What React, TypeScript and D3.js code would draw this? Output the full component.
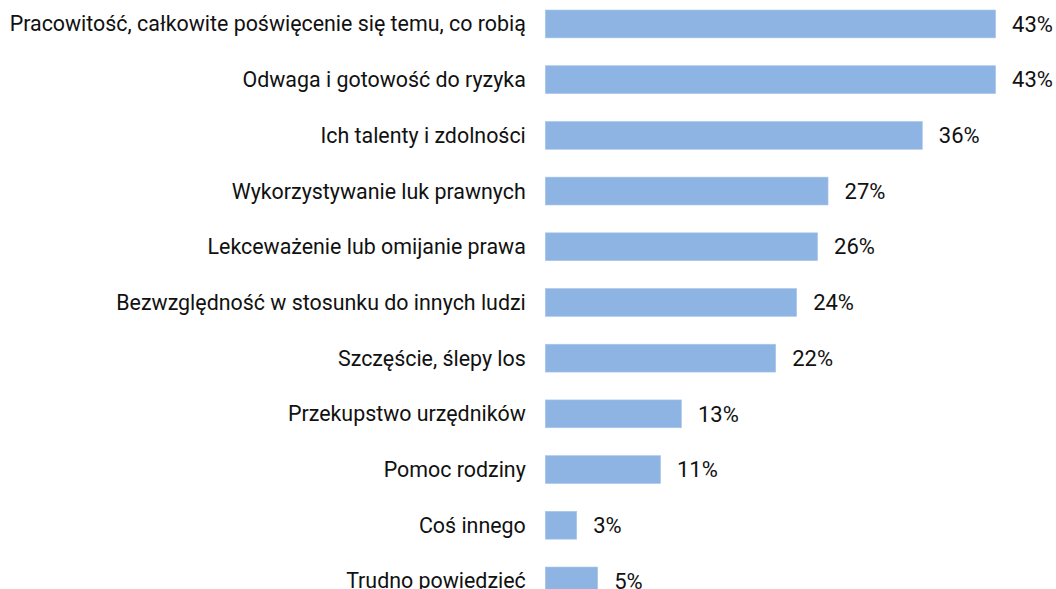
import React from "react";
import * as d3 from "d3";

const categories = [
  "Pracowitość, całkowite poświęcenie się temu, co robią",
  "Odwaga i gotowość do ryzyka",
  "Ich talenty i zdolności",
  "Wykorzystywanie luk prawnych",
  "Lekceważenie lub omijanie prawa",
  "Bezwzględność w stosunku do innych ludzi",
  "Szczęście, ślepy los",
  "Przekupstwo urzędników",
  "Pomoc rodziny",
  "Coś innego",
  "Trudno powiedzieć",
];
const values = [43, 43, 36, 27, 26, 24, 22, 13, 11, 3, 5];

const W = 1056;
const H = 589;

export default function App() {
  const x = d3.scaleLinear().domain([0, 43]).range([545.3, 995.6]);
  const y = d3
    .scaleBand<string>()
    .domain(categories)
    .range([-3.9, -3.9 + 11 * 55.7])
    .paddingInner(0.5)
    .paddingOuter(0.25);
  const font = "Roboto, 'Noto Sans', sans-serif";
  return (
    <svg
      width={W}
      height={H}
      style={{ position: "absolute", left: 0, top: 0, background: "#fff" }}
    >
      {categories.map((c, i) => {
        const y0 = y(c)!;
        const bw = y.bandwidth();
        const cy = y0 + bw / 2;
        return (
          <g key={c}>
            <text
              x={x(0) - 19.5}
              y={cy}
              dy="0.35em"
              textAnchor="end"
              fontFamily={font}
              fontSize={21.4}
              fill="#111"
            >
              {c}
            </text>
            <rect
              x={x(0)}
              y={y0}
              width={x(values[i]) - x(0)}
              height={bw}
              fill="#8eb4e3"
              stroke="#a9c6ea"
              strokeWidth={0.6}
            />
            <text
              x={x(values[i]) + 16.5}
              y={cy}
              dy="0.35em"
              textAnchor="start"
              fontFamily={font}
              fontSize={22}
              fill="#111"
            >
              {values[i]}%
            </text>
          </g>
        );
      })}
    </svg>
  );
}
